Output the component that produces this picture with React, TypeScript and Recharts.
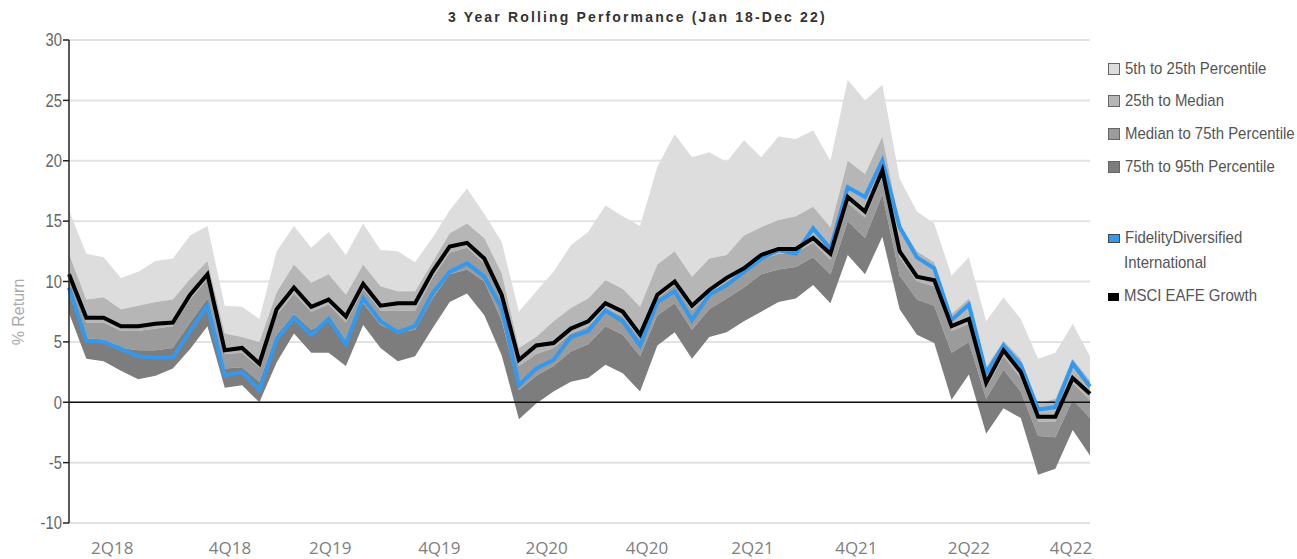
import React from 'react';
import { ComposedChart, Area, Line, XAxis, YAxis, CartesianGrid, ReferenceLine } from 'recharts';

// monthly points, Jan 18 .. Dec 22
const months = [
    'Jan 18', 'Feb 18', 'Mar 18', 'Apr 18', 'May 18', 'Jun 18', 'Jul 18', 'Aug 18', 'Sep 18', 'Oct 18', 'Nov 18', 'Dec 18',
    'Jan 19', 'Feb 19', 'Mar 19', 'Apr 19', 'May 19', 'Jun 19', 'Jul 19', 'Aug 19', 'Sep 19', 'Oct 19', 'Nov 19', 'Dec 19',
    'Jan 20', 'Feb 20', 'Mar 20', 'Apr 20', 'May 20', 'Jun 20', 'Jul 20', 'Aug 20', 'Sep 20', 'Oct 20', 'Nov 20', 'Dec 20',
    'Jan 21', 'Feb 21', 'Mar 21', 'Apr 21', 'May 21', 'Jun 21', 'Jul 21', 'Aug 21', 'Sep 21', 'Oct 21', 'Nov 21', 'Dec 21',
    'Jan 22', 'Feb 22', 'Mar 22', 'Apr 22', 'May 22', 'Jun 22', 'Jul 22', 'Aug 22', 'Sep 22', 'Oct 22', 'Nov 22', 'Dec 22',
];

const p5 = [
    15.9, 12.3, 12.0, 10.3, 10.8, 11.7, 11.9, 13.8, 14.6, 8.0, 7.9, 6.9,
    12.5, 14.6, 12.8, 14.1, 12.2, 14.8, 12.6, 12.5, 11.6, 13.6, 15.9, 17.7,
    15.6, 13.3, 7.5, 9.2, 10.8, 13.0, 14.1, 16.3, 15.4, 14.6, 19.5, 22.2,
    20.3, 20.7, 19.9, 21.7, 20.3, 22.0, 21.8, 22.5, 20.0, 26.7, 25.0, 26.3,
    18.5, 15.8, 14.8, 10.5, 12.0, 6.7, 8.7, 6.9, 3.6, 4.1, 6.5, 3.8,
];

const p25 = [
    12.3, 8.5, 8.7, 7.7, 8.0, 8.3, 8.5, 10.2, 11.7, 5.7, 5.4, 5.0,
    9.1, 11.4, 9.9, 10.6, 8.9, 11.4, 9.6, 9.2, 9.2, 11.6, 14.0, 14.8,
    13.6, 10.7, 4.5, 5.4, 6.7, 7.8, 8.6, 10.1, 9.4, 7.9, 11.4, 12.5,
    10.4, 11.9, 12.2, 13.8, 14.5, 15.1, 15.4, 16.2, 14.5, 20.0, 18.9, 22.0,
    14.8, 12.5, 11.6, 7.3, 8.6, 2.9, 5.1, 3.6, -0.1, 0.3, 3.6, 1.8,
];

const p50 = [
    10.3, 6.6, 6.6, 5.9, 5.9, 6.1, 6.3, 8.5, 10.2, 4.0, 4.1, 2.9,
    7.2, 9.0, 7.5, 8.1, 6.6, 9.4, 7.6, 7.6, 7.6, 10.3, 12.4, 12.8,
    11.5, 8.5, 3.0, 4.0, 4.5, 5.7, 6.3, 7.8, 7.1, 5.3, 8.6, 9.7,
    7.6, 9.0, 10.0, 10.8, 11.8, 12.3, 12.4, 13.2, 11.8, 16.5, 15.3, 18.7,
    12.0, 10.0, 9.6, 5.9, 6.5, 1.2, 3.8, 2.0, -1.6, -1.6, 1.6, 0.2,
];

const p75 = [
    8.9, 5.3, 5.2, 4.5, 4.3, 4.3, 4.5, 6.6, 8.6, 2.8, 2.9, 1.7,
    5.6, 7.3, 6.0, 6.7, 5.1, 8.2, 6.4, 5.8, 6.0, 8.6, 10.6, 11.0,
    10.0, 6.8, 1.0, 2.2, 3.0, 4.2, 4.8, 6.3, 5.6, 3.8, 7.2, 8.2,
    6.0, 7.7, 8.6, 9.5, 10.6, 11.0, 11.2, 12.0, 10.6, 15.0, 13.6, 17.2,
    10.5, 8.5, 8.0, 4.1, 5.0, 0.3, 2.7, 0.9, -2.8, -2.9, 0.2, -1.3,
];

const p95 = [
    7.4, 3.6, 3.4, 2.6, 1.9, 2.2, 2.8, 4.4, 6.3, 1.2, 1.4, 0.0,
    3.3, 5.7, 4.1, 4.1, 3.0, 6.4, 4.5, 3.4, 3.8, 6.1, 8.3, 9.0,
    7.2, 3.9, -1.4, -0.1, 0.9, 1.7, 2.0, 3.1, 2.4, 0.9, 4.7, 5.8,
    3.6, 5.4, 5.8, 6.7, 7.5, 8.3, 8.6, 9.7, 8.2, 12.2, 10.6, 13.7,
    7.7, 5.6, 4.9, 0.2, 2.3, -2.6, -0.5, -1.3, -6.0, -5.5, -2.3, -4.4,
];

const fidelity = [
    9.5, 5.1, 5.0, 4.4, 3.8, 3.7, 3.7, 5.9, 8.0, 2.2, 2.5, 1.0,
    5.2, 7.0, 5.6, 6.9, 4.8, 8.6, 6.7, 5.8, 6.3, 9.0, 10.8, 11.5,
    10.4, 7.8, 1.4, 2.8, 3.5, 5.4, 5.9, 7.6, 6.7, 4.7, 8.3, 9.2,
    6.8, 8.9, 9.7, 10.8, 11.9, 12.6, 12.3, 14.4, 12.7, 17.8, 17.0, 20.0,
    14.5, 12.0, 11.1, 6.8, 8.1, 2.4, 4.7, 3.1, -0.6, -0.4, 3.2, 1.3,
];

const msciEafeGrowth = [
    10.6, 7.0, 7.0, 6.3, 6.3, 6.5, 6.6, 8.9, 10.6, 4.3, 4.5, 3.2,
    7.7, 9.5, 7.9, 8.5, 7.1, 9.8, 8.0, 8.2, 8.2, 10.8, 12.9, 13.2,
    11.9, 8.9, 3.5, 4.7, 4.9, 6.1, 6.7, 8.2, 7.5, 5.6, 8.9, 10.0,
    8.0, 9.3, 10.3, 11.1, 12.2, 12.7, 12.7, 13.6, 12.3, 17.0, 15.8, 19.2,
    12.5, 10.4, 10.1, 6.3, 6.9, 1.6, 4.3, 2.5, -1.2, -1.2, 2.0, 0.7,
];

const quarterLabels = ['2Q18', '4Q18', '2Q19', '4Q19', '2Q20', '4Q20', '2Q21', '4Q21', '2Q22', '4Q22'];
// where each quarter label sits, in month index units
const quarterAt = [2.5, 9.3, 15.1, 21.4, 27.6, 33.4, 39.5, 45.5, 52.0, 57.9];

const yTicks = [30, 25, 20, 15, 10, 5, 0, -5, -10];

const bandColors = ['#dddddd', '#b6b6b6', '#9b9b9b', '#7d7d7d'];
const bandNames = ['5th to 25th Percentile', '25th to Median', 'Median to 75th Percentile', '75th to 95th Percentile'];

const data = months.map((m, i) => ({
    idx: i,
    month: m,
    band1: [p25[i], p5[i]],
    band2: [p50[i], p25[i]],
    band3: [p75[i], p50[i]],
    band4: [p95[i], p75[i]],
    fidelity: fidelity[i],
    msci: msciEafeGrowth[i],
}));

const sans = '"Liberation Sans", Arial, sans-serif';

// the original uses a narrow face; squeeze Liberation Sans instead
const Narrow = ({ children }: { children: React.ReactNode }) => (
    <span style={{ display: 'inline-block', transform: 'scaleX(0.88)', transformOrigin: 'left center', whiteSpace: 'nowrap' }}>{children}</span>
);

const YTick = (props: any) => {
    const { x, y, payload } = props;
    return (
        <g transform={`translate(${x},${y})`}>
            <text transform="scale(0.78,1)" textAnchor="end" dy="0.33em" fill="#666" fontSize={19} fontFamily={sans}>
                {payload.value}
            </text>
        </g>
    );
};

const LegendBox = () => {
    const rows = [69, 101, 134, 167];
    return (
        <div style={{ position: 'absolute', left: 1108, top: 0, fontFamily: sans, fontSize: 17, color: '#555' }}>
            {bandNames.map((name, i) => (
                <div key={name} style={{ position: 'absolute', top: rows[i] - 10, left: 0, height: 20, display: 'flex', alignItems: 'center', whiteSpace: 'nowrap' }}>
                    <span style={{ width: 10, height: 10, background: bandColors[i], border: '1px solid #666', marginRight: 5, flex: 'none' }} />
                    <Narrow>{name}</Narrow>
                </div>
            ))}
            <div style={{ position: 'absolute', top: 225, left: 0, whiteSpace: 'nowrap', lineHeight: '25px' }}>
                <span style={{ display: 'inline-block', width: 10, height: 7, background: '#3399ee', border: '1px solid #444', marginRight: 5, verticalAlign: 'middle' }} />
                <Narrow>FidelityDiversified</Narrow>
                <div style={{ paddingLeft: 16 }}><Narrow>International</Narrow></div>
            </div>
            <div style={{ position: 'absolute', top: 286, left: 0, whiteSpace: 'nowrap', lineHeight: '20px' }}>
                <span style={{ display: 'inline-block', width: 11, height: 8, background: '#000', marginRight: 5, verticalAlign: 'middle' }} />
                <Narrow>MSCI EAFE Growth</Narrow>
            </div>
        </div>
    );
};

export default function App() {
    return (
        <div style={{ position: 'absolute', left: 0, top: 0, width: 1297, height: 559, background: '#fff', fontFamily: sans }}>
            <div style={{ position: 'absolute', left: 448, top: 9, fontSize: 14, fontWeight: 'bold', color: '#333', letterSpacing: 2.15, whiteSpace: 'nowrap' }}>
                3 Year Rolling Performance (Jan 18-Dec 22)
            </div>
            <div style={{ position: 'absolute', left: 19, top: 312, transform: 'translate(-50%, -50%) rotate(-90deg)', fontSize: 16, color: '#aaa', whiteSpace: 'nowrap' }}>
                % Return
            </div>
            <ComposedChart
                width={1297}
                height={559}
                data={data}
                margin={{ top: 40, right: 207, bottom: 0, left: 0 }}
            >
                <CartesianGrid vertical={false} stroke="#e2e2e2" strokeWidth={2} />
                <ReferenceLine y={0} stroke="#111" strokeWidth={1.5} />
                <XAxis
                    dataKey="idx"
                    type="number"
                    domain={[0, months.length - 1]}
                    ticks={quarterAt}
                    tickFormatter={(v: number) => quarterLabels[quarterAt.indexOf(v)] ?? ''}
                    axisLine={false}
                    tickLine={false}
                    tickSize={6}
                    tickMargin={13}
                    height={36}
                    interval={0}
                    tick={{ fill: '#808080', fontSize: 17, fontFamily: '"Open Sans", sans-serif' }}
                />
                <YAxis
                    domain={[-10, 30]}
                    ticks={yTicks}
                    width={69}
                    axisLine={{ stroke: '#222', strokeWidth: 1.5 }}
                    tickLine={{ stroke: '#222', strokeWidth: 1.5 }}
                    tickSize={6}
                    tickMargin={1}
                    interval={0}
                    tick={<YTick />}
                />
                <Area type="linear" dataKey="band1" stroke="none" fill={bandColors[0]} fillOpacity={1} isAnimationActive={false} />
                <Area type="linear" dataKey="band2" stroke="none" fill={bandColors[1]} fillOpacity={1} isAnimationActive={false} />
                <Area type="linear" dataKey="band3" stroke="none" fill={bandColors[2]} fillOpacity={1} isAnimationActive={false} />
                <Area type="linear" dataKey="band4" stroke="none" fill={bandColors[3]} fillOpacity={1} isAnimationActive={false} />
                <Line type="linear" dataKey="fidelity" stroke="#3399ee" strokeWidth={4} dot={false} isAnimationActive={false} />
                <Line type="linear" dataKey="msci" stroke="#000" strokeWidth={4} dot={false} isAnimationActive={false} />
            </ComposedChart>
            <LegendBox />
        </div>
    );
}
